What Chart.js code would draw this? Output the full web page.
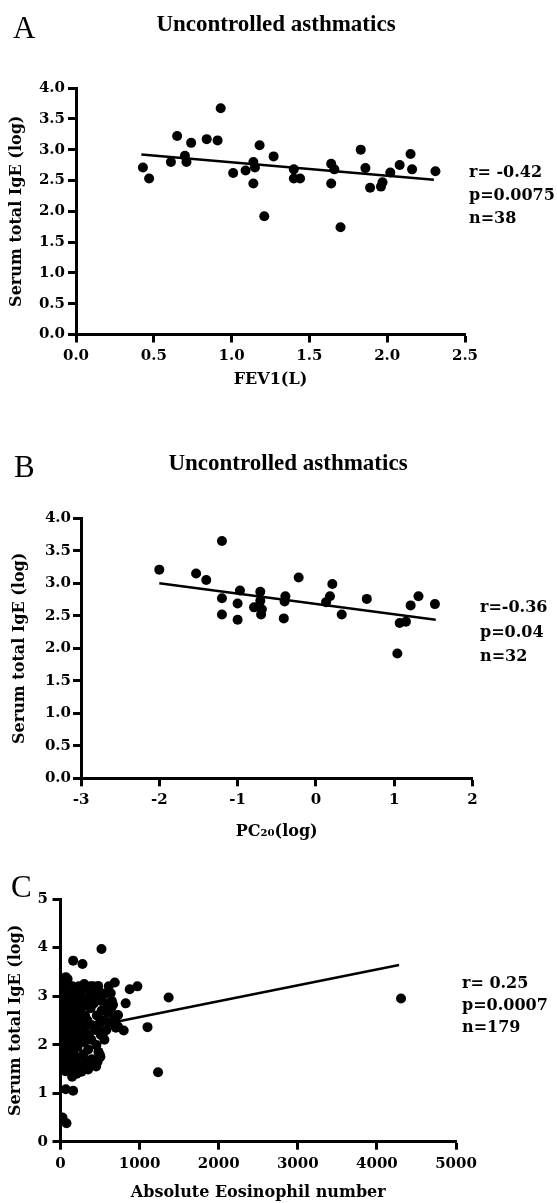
<!DOCTYPE html>
<html lang="en">
<head>
  <meta charset="UTF-8" />
  <title>Serum total IgE correlations</title>
  <script src="https://cdn.jsdelivr.net/npm/chart.js"></script>
  <style>
    body {
      margin: 0;
      background: #fff;
      width: 557px;
      height: 1203px;
      position: relative;
      overflow: hidden;
    }
    canvas {
      position: absolute;
      left: 0;
    }
  </style>
</head>
<body>
  <canvas id="chartA" width="557" height="400" style="top:0px"></canvas>
  <canvas id="chartB" width="557" height="445" style="top:400px"></canvas>
  <canvas id="chartC" width="557" height="358" style="top:845px"></canvas>
  <script>
    // panel A: FEV1 vs serum IgE
    const fevX = [0.43, 0.47, 0.61, 0.65, 0.70, 0.71, 0.74, 0.84, 0.91, 0.93,
                  1.01, 1.09, 1.14, 1.15, 1.14, 1.18, 1.21, 1.27, 1.40, 1.40,
                  1.44, 1.64, 1.64, 1.66, 1.70, 1.83, 1.86, 1.89, 1.96, 1.97,
                  2.02, 2.08, 2.15, 2.16, 2.31];
    const igeA = [2.71, 2.53, 2.80, 3.22, 2.90, 2.80, 3.11, 3.17, 3.15, 3.67,
                  2.62, 2.66, 2.80, 2.71, 2.45, 3.07, 1.92, 2.89, 2.68, 2.53,
                  2.53, 2.77, 2.45, 2.68, 1.74, 3.00, 2.70, 2.38, 2.40, 2.47,
                  2.63, 2.75, 2.93, 2.68, 2.65];
    const fitA = [{ x: 0.42, y: 2.92 }, { x: 2.30, y: 2.51 }];
    const statsA = ['r= -0.42', 'p=0.0075', 'n=38'];
    const xTicksA = [0, 0.5, 1.0, 1.5, 2.0, 2.5];
    const yTicksA = [0, 0.5, 1.0, 1.5, 2.0, 2.5, 3.0, 3.5, 4.0];

    // panel B: PC20 vs serum IgE
    const pcX = [-2.00, -1.53, -1.40, -1.20, -1.20, -1.20, -0.97, -1.00, -1.00, -0.71,
                 -0.79, -0.69, -0.70, -0.71, -0.39, -0.40, -0.41, -0.22, 0.13, 0.18,
                 0.21, 0.33, 0.65, 1.04, 1.07, 1.15, 1.21, 1.31, 1.52];
    const igeB = [3.21, 3.15, 3.05, 3.65, 2.77, 2.52, 2.89, 2.69, 2.44, 2.87,
                  2.63, 2.60, 2.52, 2.73, 2.80, 2.72, 2.46, 3.09, 2.71, 2.80,
                  2.99, 2.52, 2.76, 1.92, 2.39, 2.41, 2.66, 2.80, 2.68];
    const fitB = [{ x: -2.00, y: 3.00 }, { x: 1.53, y: 2.44 }];
    const statsB = ['r=-0.36', 'p=0.04', 'n=32'];
    const xTicksB = [-3, -2, -1, 0, 1, 2];
    const yTicksB = [0, 0.5, 1.0, 1.5, 2.0, 2.5, 3.0, 3.5, 4.0];

    // panel C: absolute eosinophil number vs serum IgE
    const eosX = [4305, 1367, 1233, 1100, 972, 875, 824, 799, 686, 635,
                  664, 727, 518, 160, 278, 67, 475, 454, 496, 160,
                  67, 147, 25, 76, 349, 265, 286, 412, 727, 720,
                  12, 15, 10, 18, 14, 20, 11, 16, 22, 25,
                  19, 13, 35, 42, 38, 50, 45, 33, 55, 48,
                  58, 40, 52, 36, 60, 72, 80, 88, 76, 95,
                  85, 92, 70, 98, 83, 78, 100, 110, 120, 130,
                  115, 140, 125, 145, 135, 118, 150, 128, 142, 160,
                  170, 180, 165, 190, 175, 185, 195, 168, 200, 178,
                  188, 210, 220, 235, 215, 245, 230, 255, 225, 250,
                  240, 260, 270, 285, 300, 290, 310, 280, 320, 305,
                  330, 295, 325, 340, 360, 380, 350, 400, 370, 410,
                  390, 420, 355, 440, 460, 480, 500, 450, 470, 510,
                  490, 520, 540, 560, 580, 600, 620, 650, 680, 700,
                  555, 610, 640, 5, 8, 6, 28, 62, 105, 155,
                  205, 265, 300, 380, 440, 330, 24, 90, 230, 150,
                  60, 110, 190, 545, 590, 505, 450, 395, 515, 470];
    const igeC = [2.95, 2.97, 1.43, 2.36, 3.20, 3.14, 2.85, 2.29, 3.28, 3.06,
                  2.82, 2.61, 3.97, 3.73, 3.66, 3.39, 3.21, 1.99, 1.79, 1.05,
                  1.08, 1.34, 0.50, 0.38, 1.49, 1.44, 3.14, 3.20, 2.37, 2.60,
                  3.05, 2.85, 2.60, 2.40, 2.15, 1.95, 1.75, 1.60, 2.75, 2.25,
                  3.15, 1.85, 2.95, 2.70, 2.45, 2.20, 2.05, 1.90, 1.65, 1.50,
                  2.55, 3.10, 2.85, 2.35, 3.00, 2.60, 2.30, 2.00, 1.80, 2.90,
                  3.25, 2.45, 2.15, 1.70, 2.75, 1.55, 2.55, 2.80, 2.35, 2.05,
                  1.90, 2.65, 3.05, 2.20, 1.65, 2.50, 2.95, 1.75, 2.40, 2.60,
                  2.10, 2.85, 1.85, 2.30, 3.10, 1.60, 2.55, 2.75, 2.00, 2.45,
                  1.45, 2.70, 2.25, 2.90, 1.95, 2.50, 1.70, 3.00, 2.40, 2.15,
                  1.55, 2.65, 2.35, 2.80, 2.05, 1.80, 2.60, 3.15, 2.25, 1.50,
                  2.90, 2.45, 1.65, 2.50, 2.20, 2.75, 1.90, 2.40, 3.00, 1.60,
                  2.10, 2.85, 1.55, 2.30, 2.60, 1.85, 2.45, 2.95, 1.65, 2.20,
                  3.10, 2.70, 2.50, 3.05, 2.30, 2.65, 2.45, 2.90, 2.55, 2.35,
                  2.10, 3.20, 2.75, 2.95, 2.30, 1.70, 1.55, 1.45, 1.50, 1.50,
                  1.40, 1.75, 3.25, 3.20, 3.05, 3.15, 3.30, 3.35, 3.20, 3.20,
                  2.45, 2.15, 2.95, 2.25, 2.85, 1.75, 1.55, 1.70, 2.90, 2.40];
    const fitC = [{ x: 30, y: 2.25 }, { x: 4280, y: 3.64 }];
    const statsC = ['r= 0.25', 'p=0.0007', 'n=179'];
    const xTicksC = [0, 1000, 2000, 3000, 4000, 5000];
    const yTicksC = [0, 1, 2, 3, 4, 5];

    Chart.defaults.color = '#000';
    Chart.defaults.animation = false;

    const tickFont = { family: 'DejaVu Serif', weight: 'bold', size: 15 };
    const titleFont = { family: 'DejaVu Serif', weight: 'bold', size: 16 };

    const panelText = {
      id: 'panelText',
      afterDraw(chart, args, o) {
        const ctx = chart.ctx;
        ctx.save();
        ctx.fillStyle = '#000';
        ctx.textBaseline = 'alphabetic';
        ctx.textAlign = 'left';
        ctx.font = '31px "Liberation Serif", serif';
        ctx.fillText(o.letter, o.letterX, o.letterY);
        if (o.title) {
          ctx.font = 'bold 23px "Liberation Serif", serif';
          ctx.textAlign = 'center';
          ctx.fillText(o.title, o.titleX, o.titleY);
        }
        ctx.font = 'bold 16px "DejaVu Serif", serif';
        ctx.textAlign = 'left';
        ctx.textBaseline = 'middle';
        o.stats.forEach((s, i) => ctx.fillText(s, o.statsX, o.statsY + i * o.statsGap));
        ctx.restore();
      }
    };

    function axis(ticks, fmt, label, box) {
      return {
        type: 'linear',
        min: ticks[0],
        max: ticks[ticks.length - 1],
        afterBuildTicks: s => { s.ticks = ticks.map(v => ({ value: v })); },
        afterFit: s => {
          if (box.w !== undefined) s.width = box.w;
          if (box.h !== undefined) s.height = box.h;
        },
        border: { display: true, color: '#000', width: 3 },
        grid: { drawOnChartArea: false, color: '#000', tickLength: 8, tickWidth: 3 },
        ticks: { font: tickFont, color: '#000', padding: box.pad, maxRotation: 0, autoSkip: false, callback: fmt },
        title: { display: true, text: label, font: titleFont, color: '#000', padding: box.titlePad }
      };
    }

    function panel(id, xs, ys, fit, xAxis, yAxis, pad, text) {
      const pts = xs.map((x, i) => ({ x: x, y: ys[i] }));
      return new Chart(document.getElementById(id), {
        type: 'scatter',
        data: {
          datasets: [
            { data: pts, pointRadius: 5, pointBackgroundColor: '#000', pointBorderWidth: 0, showLine: false },
            { type: 'line', data: fit, borderColor: '#000', borderWidth: 2.5, pointRadius: 0, fill: false }
          ]
        },
        options: {
          responsive: false,
          layout: { padding: pad },
          plugins: { legend: { display: false }, tooltip: { enabled: false }, panelText: text },
          scales: { x: xAxis, y: yAxis }
        },
        plugins: [panelText]
      });
    }

    const oneDec = v => Number(v).toFixed(1);
    const plain = v => String(v);

    panel('chartA', fevX, igeA, fitA,
      axis(xTicksA, oneDec, 'FEV1(L)', { h: 65.5, pad: 5, titlePad: { top: 0, bottom: 11 } }),
      axis(yTicksA, oneDec, 'Serum total IgE (log)', { w: 76, pad: 3, titlePad: { top: 7, bottom: 0 } }),
      { left: 0, right: 92, top: 88, bottom: 0 },
      { letter: 'A', letterX: 13, letterY: 38, title: 'Uncontrolled asthmatics', titleX: 276, titleY: 31,
        stats: statsA, statsX: 469, statsY: 173, statsGap: 23 });

    panel('chartB', pcX, igeB, fitB,
      axis(xTicksB, plain, 'PC\u2082\u2080(log)', { h: 66.7, pad: 5, titlePad: { top: 0, bottom: 4 } }),
      axis(yTicksB, oneDec, 'Serum total IgE (log)', { w: 81, pad: 2, titlePad: { top: 10, bottom: 0 } }),
      { left: 0, right: 84.5, top: 118.3, bottom: 0 },
      { letter: 'B', letterX: 14, letterY: 77, title: 'Uncontrolled asthmatics', titleX: 288, titleY: 70,
        stats: statsB, statsX: 480, statsY: 208, statsGap: 24.5 });

    panel('chartC', eosX, igeC, fitC,
      axis(xTicksC, plain, 'Absolute Eosinophil number', { h: 61.3, pad: 5, titlePad: { top: 0, bottom: 1 } }),
      axis(yTicksC, plain, 'Serum total IgE (log)', { w: 60.5, pad: 4.5, titlePad: { top: 6, bottom: 0 } }),
      { left: 0, right: 101, top: 54, bottom: 0 },
      { letter: 'C', letterX: 11, letterY: 52, title: '',
        stats: statsC, statsX: 462, statsY: 139, statsGap: 22 });
  </script>
</body>
</html>
